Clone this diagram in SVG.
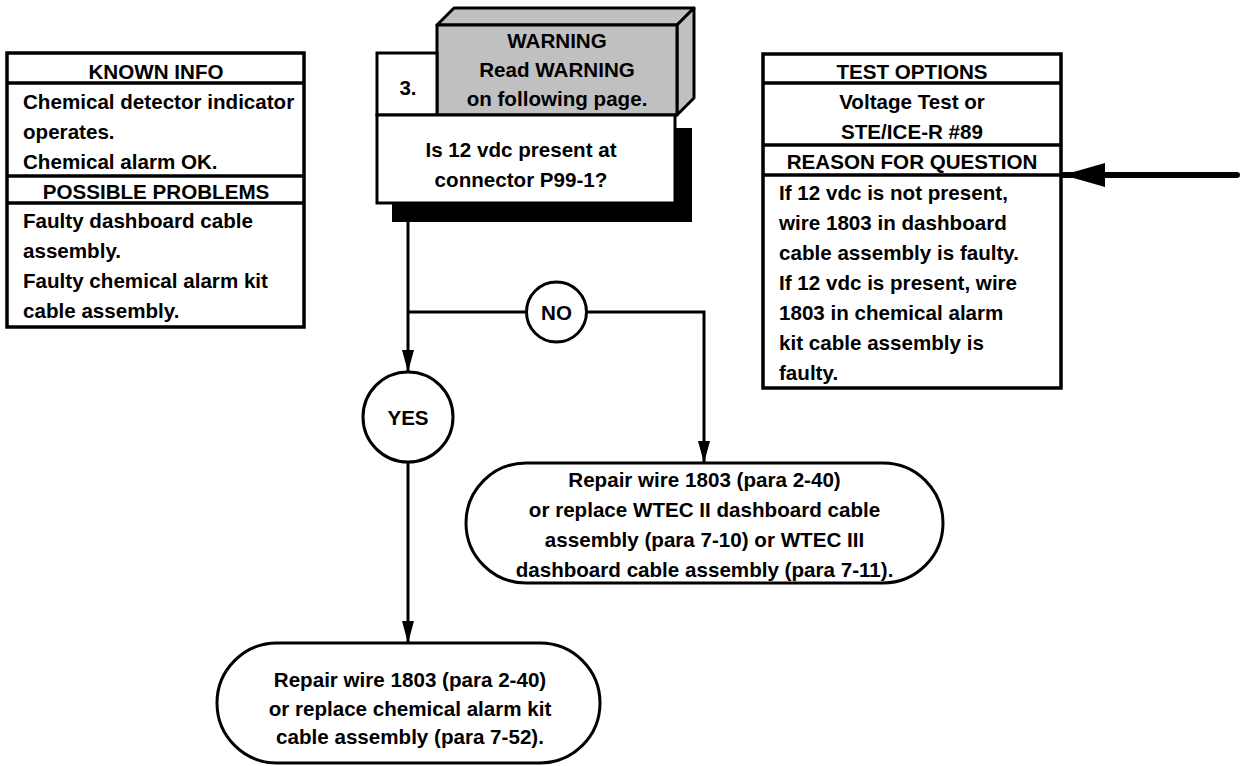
<svg xmlns="http://www.w3.org/2000/svg" width="1244" height="766" viewBox="0 0 1244 766">
<style>
  .t { font-family: "Liberation Sans", Arial, sans-serif; font-weight: bold; font-size: 20.6px; fill: #000; }
  .c { text-anchor: middle; }
  .box { fill: #fff; stroke: #000; stroke-width: 3.5; }
  .sep { stroke: #000; stroke-width: 3.5; fill: none; }
  .ln { stroke: #000; stroke-width: 3; fill: none; }
  .gray { fill: #c0c0c0; stroke: #000; stroke-width: 3; stroke-linejoin: round; }
</style>
<defs>
  <marker id="ah" markerUnits="userSpaceOnUse" markerWidth="24" markerHeight="14" refX="22" refY="6" orient="auto">
    <path d="M0,0 L22,6 L0,12 z" fill="#000"/>
  </marker>
  <marker id="bigah" markerUnits="userSpaceOnUse" markerWidth="44" markerHeight="26" refX="15" refY="12" orient="auto">
    <path d="M0,0 L42,12 L0,24 z" fill="#000"/>
  </marker>
</defs>
<rect width="1244" height="766" fill="#fff"/>

<g id="known-info">
  <rect class="box" x="7" y="53" width="297" height="274"/>
  <line class="sep" x1="7" y1="83" x2="304" y2="83"/>
  <line class="sep" x1="7" y1="176" x2="304" y2="176"/>
  <line class="sep" x1="7" y1="203" x2="304" y2="203"/>
  <text class="t c" x="156" y="79">KNOWN INFO</text>
  <text class="t" x="23" y="109">Chemical detector indicator</text>
  <text class="t" x="23" y="139">operates.</text>
  <text class="t" x="23" y="169">Chemical alarm OK.</text>
  <text class="t c" x="156" y="199">POSSIBLE PROBLEMS</text>
  <text class="t" x="23" y="228">Faulty dashboard cable</text>
  <text class="t" x="23" y="258">assembly.</text>
  <text class="t" x="23" y="288">Faulty chemical alarm kit</text>
  <text class="t" x="23" y="318">cable assembly.</text>
</g>

<g id="step3">
  <rect x="392" y="128" width="300" height="94" fill="#000"/>
  <polygon class="gray" points="437,25 454,8 694,8 677,25"/>
  <polygon class="gray" points="677,25 694,8 694,98 677,115"/>
  <rect class="gray" x="437" y="25" width="240" height="90"/>
  <rect class="box" x="377" y="53" width="60" height="62" style="stroke-width:3"/>
  <rect class="box" x="377" y="115" width="298" height="88" style="stroke-width:3"/>
  <text class="t c" x="557" y="48">WARNING</text>
  <text class="t c" x="557" y="77">Read WARNING</text>
  <text class="t c" x="557" y="106">on following page.</text>
  <text class="t c" x="408" y="95">3.</text>
  <text class="t c" x="521" y="157">Is 12 vdc present at</text>
  <text class="t c" x="521" y="187">connector P99-1?</text>
</g>

<g id="test-options">
  <rect class="box" x="763" y="54" width="298" height="334"/>
  <line class="sep" x1="763" y1="83" x2="1061" y2="83"/>
  <line class="sep" x1="763" y1="145" x2="1061" y2="145"/>
  <line class="sep" x1="763" y1="175" x2="1061" y2="175"/>
  <text class="t c" x="912" y="79">TEST OPTIONS</text>
  <text class="t c" x="912" y="109">Voltage Test or</text>
  <text class="t c" x="912" y="139">STE/ICE-R #89</text>
  <text class="t c" x="912" y="169">REASON FOR QUESTION</text>
  <text class="t" x="779" y="200">If 12 vdc is not present,</text>
  <text class="t" x="779" y="230">wire 1803 in dashboard</text>
  <text class="t" x="779" y="260">cable assembly is faulty.</text>
  <text class="t" x="779" y="290">If 12 vdc is present, wire</text>
  <text class="t" x="779" y="320">1803 in chemical alarm</text>
  <text class="t" x="779" y="350">kit cable assembly is</text>
  <text class="t" x="779" y="380">faulty.</text>
</g>

<g id="no">
  <circle class="ln" cx="556.5" cy="312" r="30" fill="#fff"/>
  <text class="t c" x="556.5" y="319.5">NO</text>
</g>

<g id="yes">
  <circle class="ln" cx="408" cy="417" r="45" fill="#fff"/>
  <text class="t c" x="408" y="424.5">YES</text>
</g>

<g id="repair-dashboard">
  <rect class="ln" x="466" y="463" width="477" height="120" rx="60" ry="60" fill="#fff"/>
  <text class="t c" x="704.5" y="487">Repair wire 1803 (para 2-40)</text>
  <text class="t c" x="704.5" y="517">or replace WTEC II dashboard cable</text>
  <text class="t c" x="704.5" y="547">assembly (para 7-10) or WTEC III</text>
  <text class="t c" x="704.5" y="577">dashboard cable assembly (para 7-11).</text>
</g>

<g id="repair-kit">
  <rect class="ln" x="217" y="643" width="383" height="120" rx="60" ry="60" fill="#fff"/>
  <text class="t c" x="410" y="687">Repair wire 1803 (para 2-40)</text>
  <text class="t c" x="410" y="716">or replace chemical alarm kit</text>
  <text class="t c" x="410" y="744">cable assembly (para 7-52).</text>
</g>

<g id="connectors">
  <path class="ln" d="M408,222 V372" marker-end="url(#ah)"/>
  <path class="ln" d="M408,312 H526.5"/>
  <path class="ln" d="M586.5,312 H704 V463" marker-end="url(#ah)"/>
  <path class="ln" d="M408,462 V643" marker-end="url(#ah)"/>
  <path d="M1237,175 H1090" stroke="#000" stroke-width="6" stroke-linecap="round" fill="none" marker-end="url(#bigah)"/>
  <path d="M1061,175 H1075" stroke="#000" stroke-width="6" fill="none"/>
</g>
</svg>
